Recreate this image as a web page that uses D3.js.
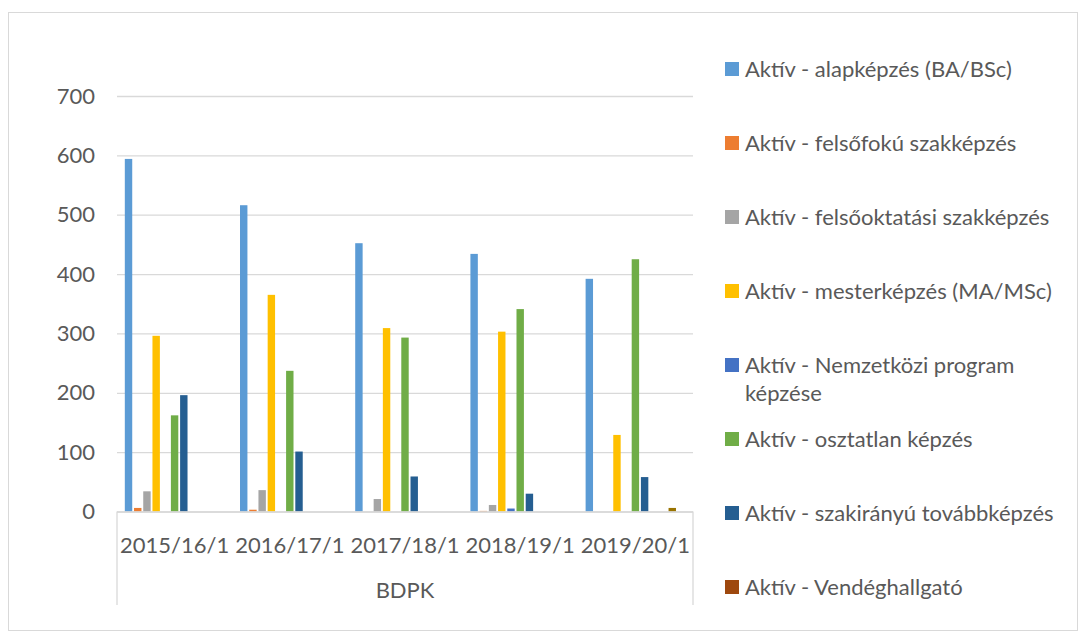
<!DOCTYPE html>
<html><head><meta charset="utf-8">
<script src="https://cdn.jsdelivr.net/npm/d3@7"></script>
<style>body{margin:0;background:#fff}svg{display:block}text{font-family:Lato,"Open Sans",sans-serif;fill:#595959}</style>
</head><body><svg id="c" width="1086" height="637"></svg>
<script>
const categories = ["2015/16/1","2016/17/1","2017/18/1","2018/19/1","2019/20/1"];
const groupLabel = "BDPK";
const seriesNames = [
  "Aktív - alapképzés (BA/BSc)",
  "Aktív - felsőfokú szakképzés",
  "Aktív - felsőoktatási szakképzés",
  "Aktív - mesterképzés (MA/MSc)",
  "Aktív - Nemzetközi program képzése",
  "Aktív - osztatlan képzés",
  "Aktív - szakirányú továbbképzés",
  "Aktív - Vendéghallgató",
  null, null, null
];
const seriesColors = ["#5B9BD5","#ED7D31","#A5A5A5","#FFC000","#4472C4","#70AD47","#255E91","#9E480E","#636363","#997300","#264478"];
const alapkepzes     = [594, 516, 452, 434, 392];
const felsofoku      = [6, 3, 0, 1, 0];
const felsooktatasi  = [34, 36, 21, 11, 0];
const mesterkepzes   = [296, 365, 309, 303, 129];
const nemzetkozi     = [0, 0, 0, 5, 0];
const osztatlan      = [162, 237, 293, 341, 425];
const szakiranyu     = [196, 101, 59, 30, 58];
const vendeg         = [0, 0, 0, 0, 0];
const hidden8        = [0, 0, 0, 0, 0];
const hidden9        = [0, 0, 0, 0, 6];
const hidden10       = [0, 0, 0, 0, 0];
const seriesValues = [alapkepzes, felsofoku, felsooktatasi, mesterkepzes, nemzetkozi, osztatlan, szakiranyu, vendeg, hidden8, hidden9, hidden10];
const yTicks = [0,100,200,300,400,500,600,700];

const svg = d3.select("#c");
svg.append("rect").attr("x",8.5).attr("y",12.5).attr("width",1069).attr("height",618)
  .attr("fill","#fff").attr("stroke","#d9d9d9").attr("stroke-width",1);

const L=117, R=693, T=96, B=511.5;
const FS = 22;
const y = d3.scaleLinear().domain([0,700]).range([B,T]);
const x0 = d3.scaleBand().domain(categories).range([L,R]).padding(0);
const x1 = d3.scaleBand().domain(d3.range(seriesValues.length)).range([0,x0.bandwidth()]).paddingInner(0).paddingOuter(0.75);

// gridlines
const yAxis = d3.axisLeft(y).tickValues(yTicks).tickSize(-(R-L)).tickPadding(22);
const ga = svg.append("g").attr("transform",`translate(${L},0)`).call(yAxis);
ga.select(".domain").remove();
ga.selectAll(".tick line").attr("stroke","#d9d9d9").attr("stroke-width",1.3);
ga.selectAll(".tick text").attr("font-size",FS).style("font-family","Lato").style("fill","#595959");

// bars
const gb = svg.append("g");
seriesValues.forEach((vals,si)=>{
  gb.selectAll(null).data(categories).enter().append("rect")
    .attr("x",c=>x0(c)+x1(si)+0.9)
    .attr("width",x1.bandwidth()-1.8)
    .attr("y",(c,ci)=>y(vals[ci]))
    .attr("height",(c,ci)=>B-y(vals[ci]))
    .attr("fill",seriesColors[si]);
});

// category axis
const ax = svg.append("g").attr("stroke","#d9d9d9").attr("stroke-width",1.3).attr("fill","none");
ax.append("line").attr("x1",L).attr("x2",R).attr("y1",B+0.5).attr("y2",B+0.5);
ax.append("line").attr("x1",L).attr("x2",L).attr("y1",B).attr("y2",605);
ax.append("line").attr("x1",R).attr("x2",R).attr("y1",B).attr("y2",605);
svg.append("g").selectAll("text").data(categories).enter().append("text")
  .attr("x",c=>x0(c)+x0.bandwidth()/2).attr("y",545).attr("dy","0.35em")
  .attr("text-anchor","middle").attr("font-size",FS).text(c=>c);
svg.append("text").attr("x",(L+R)/2).attr("y",590).attr("dy","0.35em")
  .attr("text-anchor","middle").attr("font-size",FS).text(groupLabel);

// legend
const legendY = [69, 143, 217, 291, 365, 439, 513, 587];
const lg = svg.append("g");
seriesNames.forEach((n,i)=>{
  if(!n) return;
  const yy = legendY[i];
  lg.append("rect").attr("x",725).attr("y",yy-7).attr("width",14).attr("height",14).attr("fill",seriesColors[i]);
  const t = lg.append("text").attr("x",745).attr("y",yy).attr("dy","0.35em").attr("font-size",FS);
  const words = n.split(" ");
  let line=[], tsp = t.append("tspan").attr("x",745);
  words.forEach(w=>{
    line.push(w); tsp.text(line.join(" "));
    if(tsp.node().getComputedTextLength()>320 && line.length>1){
      line.pop(); tsp.text(line.join(" ")); line=[w];
      tsp = t.append("tspan").attr("x",745).attr("dy",28).text(w);
    }
  });
});
</script></body></html>
